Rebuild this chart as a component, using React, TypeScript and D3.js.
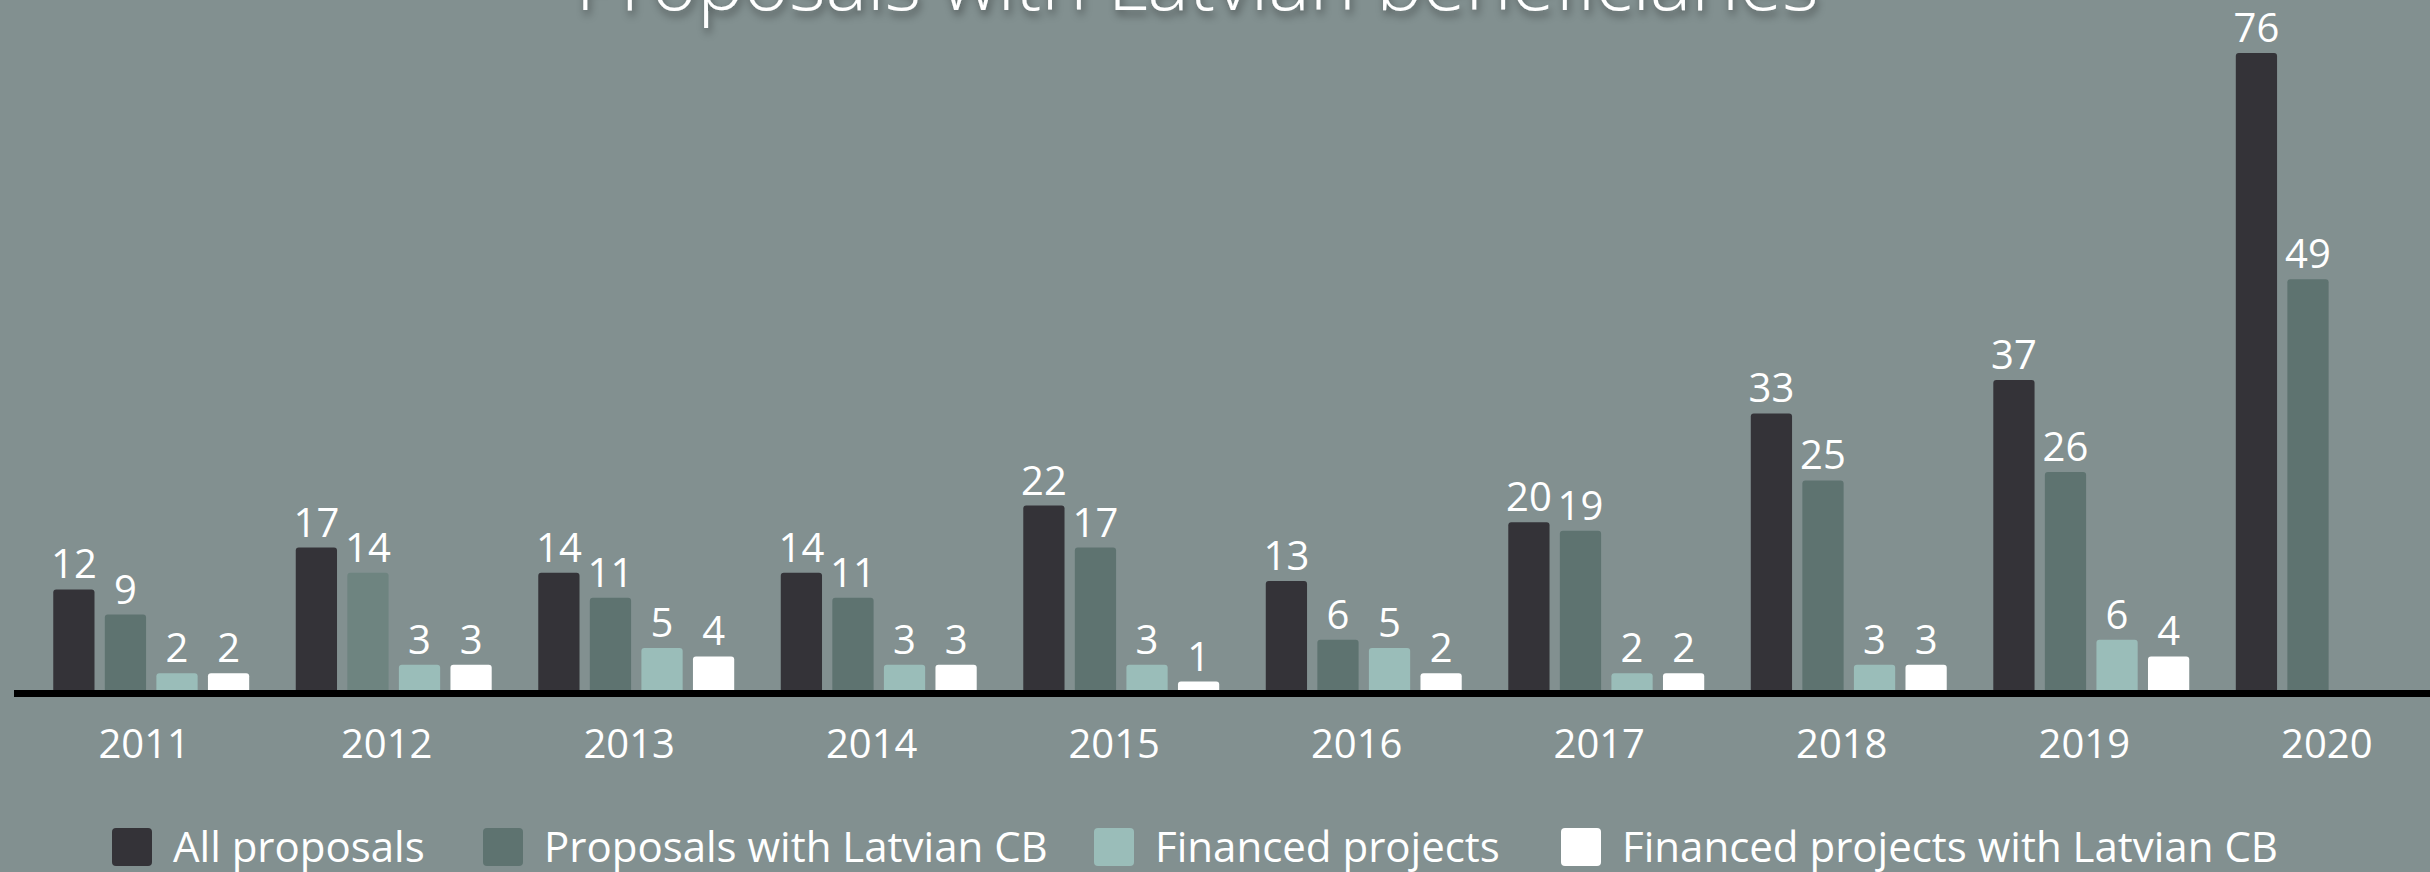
import React from 'react';
import * as d3 from 'd3';

const years = ['2011', '2012', '2013', '2014', '2015', '2016', '2017', '2018', '2019', '2020'];
const allProposals = [12, 17, 14, 14, 22, 13, 20, 33, 37, 76];
const proposalsLvCb = [9, 14, 11, 11, 17, 6, 19, 25, 26, 49];
const financed = [2, 3, 5, 3, 3, 5, 2, 3, 6, null];
const financedLvCb = [2, 3, 4, 3, 1, 2, 2, 3, 4, null];

const seriesNames = ['All proposals', 'Proposals with Latvian CB', 'Financed projects', 'Financed projects with Latvian CB'];
const seriesValues = [allProposals, proposalsLvCb, financed, financedLvCb];
const seriesColors = ['#343338', '#5e7370', '#9abdb9', '#ffffff'];
// the 2012 "Proposals with Latvian CB" bar is shown lighter (hover highlight in the original)
const highlight = { series: 1, year: '2012', color: '#6e8480' };

const width = 2430;
const height = 872;
const baseY = 690;
const font = '"Open Sans", "Segoe UI", sans-serif';

// legend layout
const legendX = [112, 483, 1094, 1561];
const legendTextGap = 61;

export default function App() {
  const x0 = d3.scaleBand<string>()
    .domain(years)
    .range([29, 2456])
    .paddingInner(0.192)
    .paddingOuter(0.1);

  const x1 = d3.scaleBand<number>()
    .domain(d3.range(seriesNames.length))
    .range([0, x0.bandwidth()])
    .paddingInner(0.2);

  const y = d3.scaleLinear()
    .domain([0, 76])
    .range([baseY, 53]);

  return (
    <svg width={width} height={height} style={{ display: 'block', background: '#829090' }}>
      <style>{'body{margin:0}'}</style>
      <defs>
        <filter id="tshadow" x="-5%" y="-50%" width="110%" height="200%">
          <feDropShadow dx="2" dy="5" stdDeviation="4" floodColor="#000" floodOpacity="0.45" />
        </filter>
      </defs>
      <rect x={0} y={0} width={width} height={height} fill="#829090" />

      <text
        x={1197}
        y={10}
        textAnchor="middle"
        fill="#ffffff"
        fontFamily={font}
        fontWeight={300}
        fontSize={78}
        filter="url(#tshadow)"
      >
        Proposals with Latvian beneficiaries
      </text>

      {years.map((yr, i) => (
        <g key={yr} transform={`translate(${x0(yr)},0)`}>
          {seriesValues.map((vals, s) => {
            const v = vals[i];
            if (v == null) return null;
            const bx = x1(s) as number;
            const bw = x1.bandwidth();
            const top = y(v);
            const fill = highlight.series === s && highlight.year === yr ? highlight.color : seriesColors[s];
            return (
              <g key={s}>
                <rect x={bx} y={top} width={bw} height={baseY - top + 4} rx={3} fill={fill} />
                <text
                  x={bx + bw / 2}
                  y={top - 11}
                  textAnchor="middle"
                  fill="#ffffff"
                  fontFamily={font}
                  fontSize={40}
                >
                  {v}
                </text>
              </g>
            );
          })}
          <text
            x={x0.bandwidth() / 2 - 7}
            y={758}
            textAnchor="middle"
            fill="#ffffff"
            fontFamily={font}
            fontSize={40}
          >
            {yr}
          </text>
        </g>
      ))}

      <line x1={14} x2={width} y1={baseY + 3.5} y2={baseY + 3.5} stroke="#000" strokeWidth={7} />

      {seriesNames.map((name, s) => (
        <g key={name} transform={`translate(${legendX[s]},828)`}>
          <rect x={0} y={0} width={40} height={38} rx={4} fill={seriesColors[s]} />
          <text x={legendTextGap} y={34} fill="#ffffff" fontFamily={font} fontSize={42}>
            {name}
          </text>
        </g>
      ))}
    </svg>
  );
}
